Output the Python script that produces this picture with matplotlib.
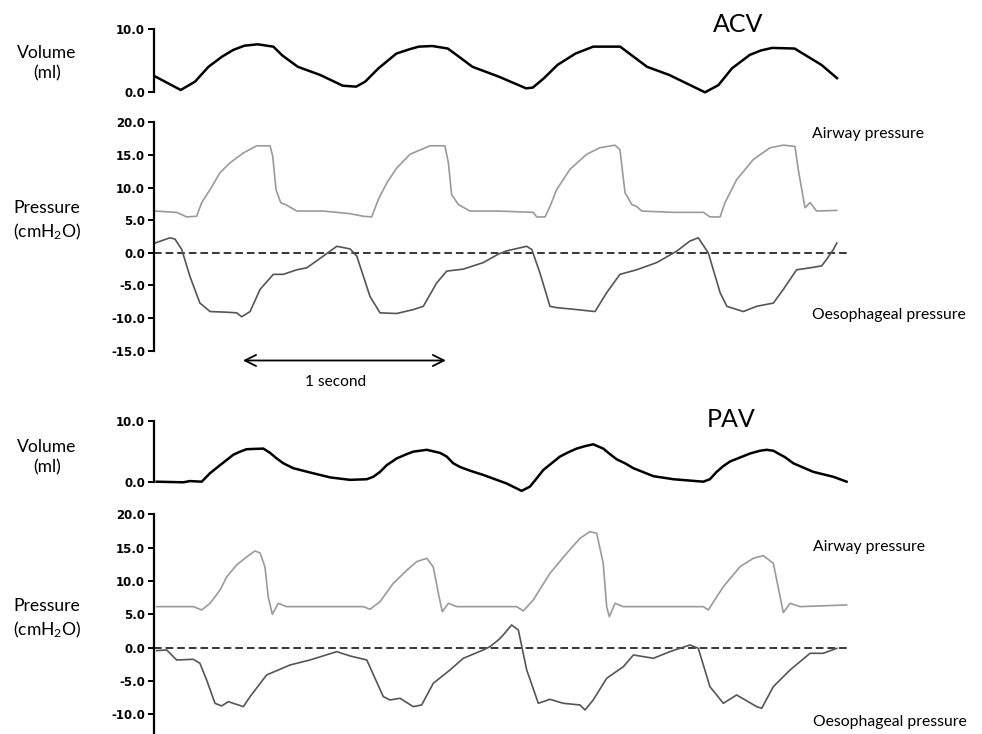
import matplotlib
matplotlib.use('Agg')
import matplotlib.pyplot as plt

plt.rcParams['font.family'] = ['Lato', 'DejaVu Sans']
plt.rcParams['mathtext.default'] = 'regular'

# ---------------- ACV ----------------
acv_vol_t = [0.008, 0.131, 0.201, 0.267, 0.333, 0.388, 0.443, 0.508, 0.585, 0.629,
             0.705, 0.815, 0.925, 0.991, 1.035, 1.100, 1.188, 1.254, 1.298, 1.364,
             1.440, 1.495, 1.561, 1.693, 1.824, 1.857, 1.912, 1.978, 2.066, 2.153,
             2.285, 2.351, 2.417, 2.526, 2.701, 2.767, 2.833, 2.921, 2.976, 3.030,
             3.140, 3.206, 3.272, 3.348]
acv_vol = [2.43, 0.32, 1.64, 4.0, 5.6, 6.67, 7.35, 7.57, 7.2, 5.8,
           4.0, 2.7, 1.0, 0.85, 1.64, 3.75, 6.1, 6.8, 7.2, 7.3,
           6.9, 5.6, 4.0, 2.4, 0.58, 0.7, 2.2, 4.3, 6.1, 7.2,
           7.2, 5.6, 4.0, 2.7, -0.05, 1.1, 3.75, 5.9, 6.6, 7.0,
           6.9, 5.6, 4.3, 2.2]

acv_paw_t = [0.005, 0.111, 0.160, 0.209, 0.234, 0.275, 0.324, 0.373, 0.438, 0.503,
             0.569, 0.582, 0.598, 0.621, 0.650, 0.700, 0.830, 0.961, 1.026, 1.067,
             1.100, 1.141, 1.190, 1.255, 1.353, 1.426, 1.443, 1.459, 1.492, 1.549,
             1.688, 1.859, 1.876, 1.917, 1.941, 1.974, 2.039, 2.121, 2.186, 2.260,
             2.284, 2.309, 2.342, 2.366, 2.391, 2.546, 2.693, 2.725, 2.775, 2.799,
             2.856, 2.938, 3.020, 3.085, 3.142, 3.158, 3.191, 3.216, 3.248, 3.347]
acv_paw = [6.4, 6.2, 5.5, 5.6, 7.7, 9.7, 12.3, 13.8, 15.3, 16.4,
           16.4, 14.8, 9.7, 7.7, 7.3, 6.4, 6.4, 6.0, 5.6, 5.5,
           8.2, 10.7, 13.0, 15.1, 16.4, 16.4, 13.8, 8.9, 7.4, 6.4,
           6.4, 6.2, 5.5, 5.5, 7.1, 9.7, 12.8, 15.1, 16.1, 16.5,
           15.8, 9.2, 7.4, 7.1, 6.4, 6.2, 6.2, 5.5, 5.5, 7.7,
           11.2, 14.3, 16.1, 16.5, 16.3, 12.8, 6.9, 7.7, 6.4, 6.5]

acv_pes_t = [0.005, 0.078, 0.103, 0.136, 0.176, 0.225, 0.275, 0.356, 0.405, 0.430,
             0.471, 0.520, 0.585, 0.634, 0.700, 0.749, 0.830, 0.896, 0.961, 0.994,
             1.059, 1.108, 1.190, 1.271, 1.320, 1.386, 1.435, 1.516, 1.565, 1.614,
             1.688, 1.729, 1.827, 1.852, 1.892, 1.941, 1.974, 2.072, 2.162, 2.219,
             2.284, 2.366, 2.464, 2.562, 2.627, 2.668, 2.717, 2.775, 2.808, 2.889,
             2.954, 3.036, 3.085, 3.150, 3.216, 3.273, 3.297, 3.330, 3.347]
acv_pes = [1.5, 2.3, 2.1, 0.5, -3.6, -7.7, -9.0, -9.1, -9.2, -9.8,
           -9.0, -5.6, -3.3, -3.3, -2.6, -2.3, -0.5, 1.0, 0.6, -0.5,
           -6.7, -9.2, -9.3, -8.7, -8.2, -4.6, -2.8, -2.5, -2.0, -1.5,
           -0.2, 0.3, 1.0, 0.5, -3.1, -8.2, -8.4, -8.7, -9.0, -6.1,
           -3.3, -2.6, -1.5, 0.25, 1.8, 2.3, 0.0, -6.1, -8.2, -9.0,
           -8.2, -7.7, -5.6, -2.6, -2.3, -2.0, -1.0, 0.5, 1.5]

# ---------------- PAV ----------------
pav_vol_t = [0.013, 0.144, 0.176, 0.234, 0.275, 0.324, 0.389, 0.422, 0.454, 0.536,
             0.569, 0.601, 0.634, 0.683, 0.765, 0.863, 0.961, 1.043, 1.075, 1.108,
             1.141, 1.190, 1.239, 1.271, 1.337, 1.402, 1.435, 1.467, 1.500, 1.549,
             1.614, 1.688, 1.729, 1.802, 1.843, 1.876, 1.908, 1.949, 1.990, 2.031,
             2.072, 2.113, 2.153, 2.202, 2.235, 2.268, 2.309, 2.350, 2.448, 2.546,
             2.693, 2.725, 2.758, 2.791, 2.824, 2.922, 2.971, 3.003, 3.036, 3.060,
             3.093, 3.134, 3.183, 3.232, 3.330, 3.395]
pav_vol = [0.1, 0.0, 0.2, 0.1, 1.5, 2.8, 4.5, 5.0, 5.4, 5.5,
           4.8, 3.9, 3.1, 2.3, 1.6, 0.8, 0.4, 0.5, 0.9, 1.7,
           2.8, 3.9, 4.6, 5.0, 5.3, 4.8, 4.2, 3.1, 2.5, 1.9,
           1.2, 0.3, -0.2, -1.4, -0.7, 0.65, 2.0, 3.1, 4.2, 4.9,
           5.5, 5.9, 6.2, 5.5, 4.6, 3.75, 3.1, 2.3, 1.0, 0.5,
           0.1, 0.5, 1.7, 2.65, 3.4, 4.7, 5.15, 5.3, 5.15, 4.7,
           4.1, 3.1, 2.4, 1.7, 0.9, 0.1]

pav_paw_t = [0.013, 0.193, 0.234, 0.275, 0.324, 0.356, 0.405, 0.454, 0.495, 0.520,
             0.544, 0.560, 0.580, 0.609, 0.650, 1.026, 1.059, 1.108, 1.173, 1.239,
             1.288, 1.337, 1.369, 1.394, 1.413, 1.443, 1.484, 1.778, 1.810, 1.859,
             1.941, 2.023, 2.088, 2.137, 2.170, 2.202, 2.219, 2.232, 2.260, 2.301,
             2.693, 2.717, 2.791, 2.873, 2.938, 2.987, 3.036, 3.069, 3.085, 3.118,
             3.167, 3.395]
pav_paw = [6.15, 6.15, 5.65, 6.65, 8.65, 10.6, 12.4, 13.6, 14.5, 14.2,
           12.1, 7.6, 5.0, 6.65, 6.15, 6.15, 5.75, 6.9, 9.65, 11.6,
           12.9, 13.4, 12.1, 8.15, 5.4, 6.65, 6.15, 6.15, 5.5, 7.15,
           11.15, 14.15, 16.4, 17.4, 17.15, 12.65, 6.15, 4.65, 6.65, 6.15,
           6.15, 5.65, 9.15, 12.15, 13.4, 13.8, 12.65, 7.65, 5.25, 6.65,
           6.15, 6.4]

pav_pes_t = [0.013, 0.062, 0.111, 0.193, 0.225, 0.258, 0.299, 0.332, 0.364, 0.438,
             0.471, 0.552, 0.667, 0.765, 0.896, 0.961, 1.043, 1.124, 1.157, 1.206,
             1.271, 1.312, 1.369, 1.451, 1.516, 1.614, 1.647, 1.688, 1.712, 1.753,
             1.786, 1.827, 1.884, 1.941, 2.006, 2.088, 2.113, 2.153, 2.219, 2.301,
             2.350, 2.448, 2.529, 2.627, 2.668, 2.725, 2.791, 2.856, 2.954, 2.979,
             3.036, 3.118, 3.216, 3.281, 3.347]
pav_pes = [-0.45, -0.35, -1.85, -1.75, -2.35, -4.85, -8.35, -8.75, -8.1, -8.85,
           -7.35, -4.1, -2.6, -1.85, -0.6, -1.25, -1.85, -7.35, -7.85, -7.6,
           -8.85, -8.6, -5.35, -3.35, -1.6, -0.35, 0.15, 1.15, 1.9, 3.4,
           2.65, -3.35, -8.35, -7.75, -8.35, -8.6, -9.35, -7.85, -4.6, -2.85,
           -1.1, -1.6, -0.6, 0.4, -0.1, -5.85, -8.35, -7.1, -8.85, -9.1,
           -5.85, -3.35, -0.85, -0.85, -0.1]

vol_ticks = [0, 10]
acv_p_ticks = [-15, -10, -5, 0, 5, 10, 15, 20]
pav_p_ticks = [-10, -5, 0, 5, 10, 15, 20]

W, H = 982, 734
fig = plt.figure(figsize=(W / 100, H / 100), dpi=100)
XMAX = 3.41
X0 = 154 / W
AW = (XMAX * 204) / W


def make_ax(top_px, bot_px, ylim, ticks):
    ax = fig.add_axes([X0, 1 - bot_px / H, AW, (bot_px - top_px) / H])
    ax.set_xlim(0, XMAX)
    ax.set_ylim(*ylim)
    for s in ['top', 'right', 'bottom']:
        ax.spines[s].set_visible(False)
    ax.spines['left'].set_linewidth(1.6)
    ax.set_xticks([])
    ax.set_yticks(ticks)
    ax.set_yticklabels([f'{v:.1f}' for v in ticks], fontfamily='DejaVu Sans',
                       fontweight='bold')
    ax.tick_params(axis='y', direction='out', length=4.5, width=1.4, pad=2,
                   labelsize=8.5)
    ax.patch.set_alpha(0)
    return ax


VOL_KW = dict(color='black', lw=1.8, clip_on=False, solid_joinstyle='round')
PAW_KW = dict(color='#9a9a9a', lw=1.2, clip_on=False, solid_joinstyle='round')
PES_KW = dict(color='#555555', lw=1.2, clip_on=False, solid_joinstyle='round')
ZERO_KW = dict(color='black', lw=1.1, dashes=(5, 2.6))

ax1 = make_ax(29, 92, (0, 10), vol_ticks)
ax1.plot(acv_vol_t, acv_vol, **VOL_KW)

ax2 = make_ax(122.3, 350.7, (-15, 20), acv_p_ticks)
ax2.axhline(0, **ZERO_KW)
ax2.plot(acv_paw_t, acv_paw, **PAW_KW)
ax2.plot(acv_pes_t, acv_pes, **PES_KW)
ax2.annotate('', xy=(1.431, -16.5), xytext=(0.436, -16.5), xycoords='data',
             annotation_clip=False,
             arrowprops=dict(arrowstyle='<->', lw=1.3, color='black',
                             shrinkA=0, shrinkB=0, mutation_scale=20))

ax3 = make_ax(421, 482.3, (0, 10), vol_ticks)
ax3.plot(pav_vol_t, pav_vol, **VOL_KW)

ax4 = make_ax(514.3, 734.3, (-13, 20), pav_p_ticks)
ax4.axhline(0, **ZERO_KW)
ax4.plot(pav_paw_t, pav_paw, **PAW_KW)
ax4.plot(pav_pes_t, pav_pes, **PES_KW)


def ftext(x, y, s, **kw):
    fig.text(x / W, 1 - y / H, s, **kw)


LAB = dict(ha='center', va='center', fontsize=12.6, linespacing=1.35, color='black')
ftext(47, 63, 'Volume\n(ml)', **LAB)
ftext(47, 221, 'Pressure\n(cmH$_2$O)', **LAB)
ftext(47, 457, 'Volume\n(ml)', **LAB)
ftext(47, 619, 'Pressure\n(cmH$_2$O)', **LAB)

ftext(738, 24, 'ACV', ha='center', va='center', fontsize=18)
ftext(731, 419, 'PAV', ha='center', va='center', fontsize=18)

SIDE = dict(ha='left', va='center', fontsize=11.3)
ftext(812, 134, 'Airway pressure', **SIDE)
ftext(812, 315, 'Oesophageal pressure', **SIDE)
ftext(813, 547, 'Airway pressure', **SIDE)
ftext(813, 722, 'Oesophageal pressure', **SIDE)

ftext(336, 382, '1 second', ha='center', va='center', fontsize=11.2)

fig.savefig('out.png', dpi=100)
